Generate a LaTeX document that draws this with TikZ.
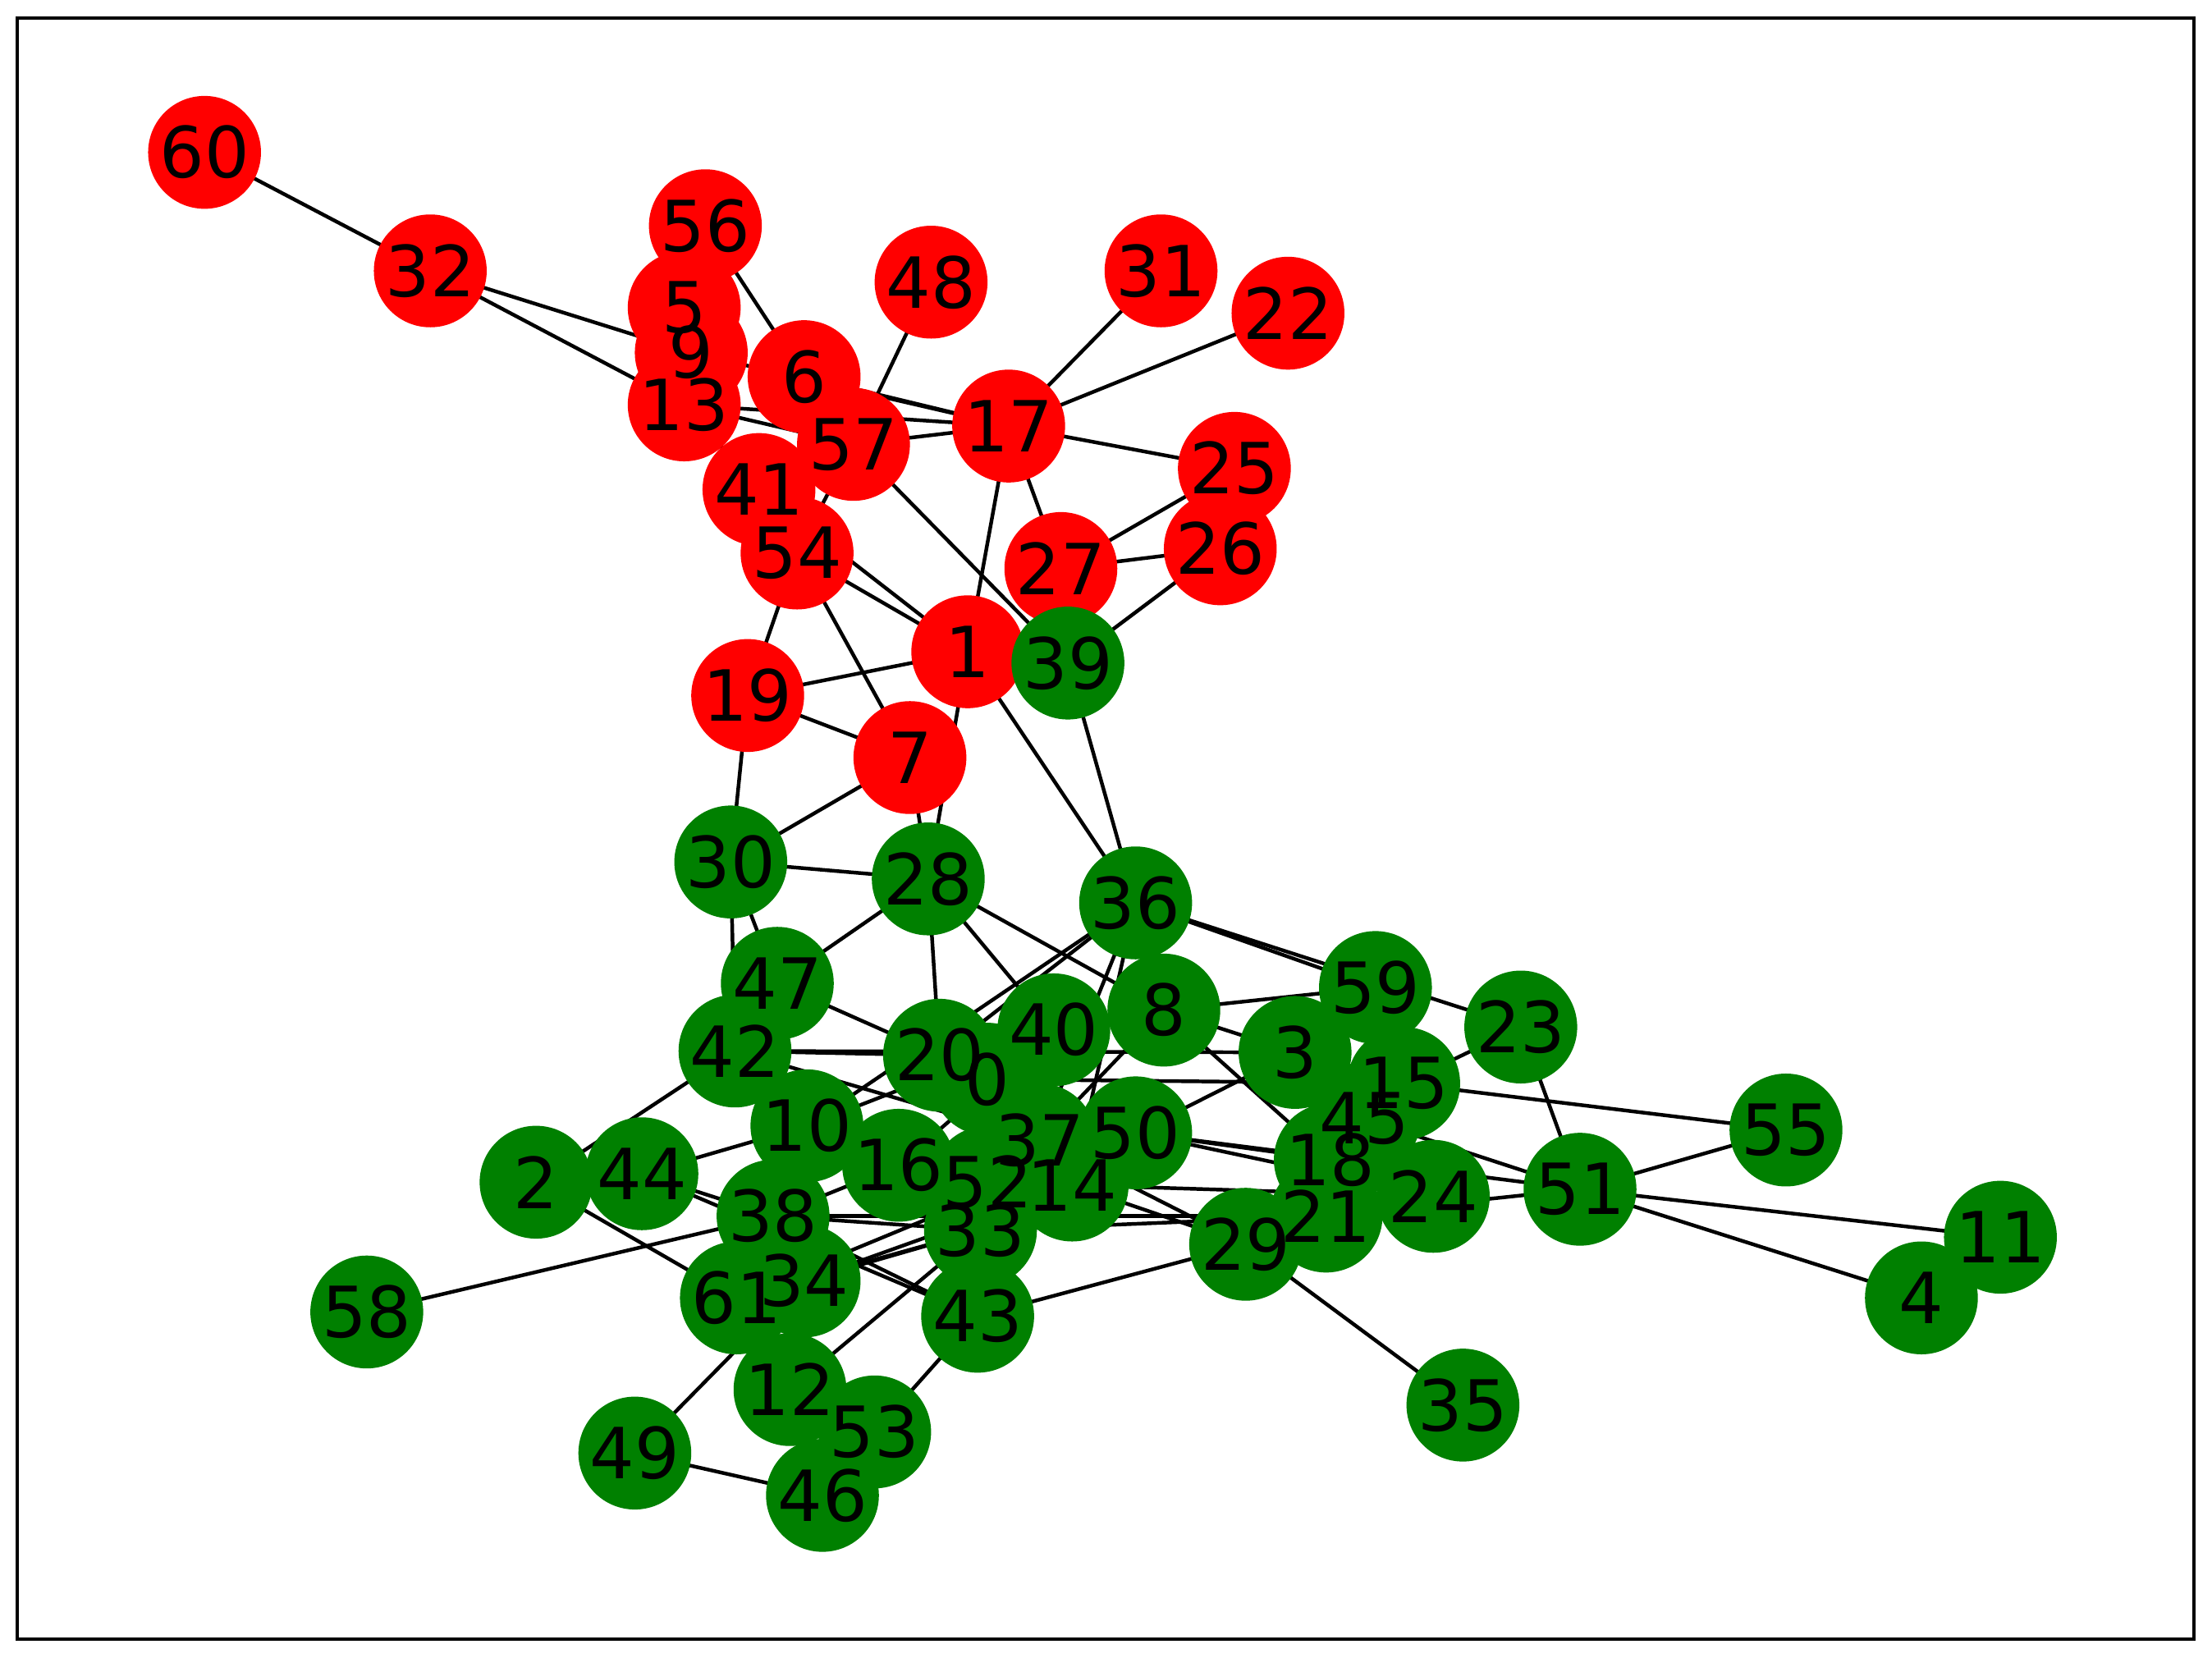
\documentclass[tikz,border=0pt]{standalone}
\usepackage{fontspec}
\setmainfont{DejaVu Sans}
\pgfdeclarelayer{background}
\pgfdeclarelayer{foreground}
\pgfsetlayers{background,main,foreground}
\definecolor{nxgreen}{RGB}{0,128,0}
\definecolor{nxred}{RGB}{255,0,0}
\tikzset{
  vtx/.style={circle, minimum size=80pt, inner sep=0pt, draw=none},
  lbl/.style={font=\fontsize{50}{50}\selectfont, inner sep=0pt, text=black},
  edge/.style={line width=2.6pt, black},
  frame/.style={line width=2.2pt, black}
}
\begin{document}
\begin{tikzpicture}[x=1pt, y=-1pt]
\useasboundingbox (0,0) rectangle (1568,1175);
\draw[frame] (12,13) rectangle (1555,1162);
\foreach \n/\x/\y/\c in {
0/700/765/nxgreen, 1/686/462/nxred, 2/380/838/nxgreen, 3/918/746/nxgreen,
4/1362/920/nxgreen, 5/485/218/nxred, 6/570/267/nxred, 7/645/537/nxred,
8/825/716/nxgreen, 9/490/250/nxred, 10/572/798/nxgreen, 11/1418/877/nxgreen,
12/560/985/nxgreen, 13/485/287/nxred, 14/760/840/nxgreen, 15/995/768/nxgreen,
16/637/826/nxgreen, 17/715/302/nxred, 18/943/822/nxgreen, 19/530/493/nxred,
20/666/748/nxgreen, 21/940/862/nxgreen, 22/913/222/nxred, 23/1078/728/nxgreen,
24/1016/848/nxgreen, 25/875/332/nxred, 26/865/389/nxred, 27/752/403/nxred,
28/658/623/nxgreen, 29/883/882/nxgreen, 30/518/611/nxgreen, 31/823/192/nxred,
32/305/192/nxred, 33/695/872/nxgreen, 34/570/908/nxgreen, 35/1037/996/nxgreen,
36/805/640/nxgreen, 37/737/808/nxgreen, 38/548/862/nxgreen, 39/757/470/nxgreen,
40/747/730/nxgreen, 41/538/347/nxred, 42/521/745/nxgreen, 43/693/933/nxgreen,
44/455/832/nxgreen, 45/967/793/nxgreen, 46/583/1060/nxgreen, 47/551/697/nxgreen,
48/660/200/nxred, 49/450/1030/nxgreen, 50/805/803/nxgreen, 51/1120/843/nxgreen,
52/700/838/nxgreen, 53/620/1015/nxgreen, 54/565/392/nxred, 55/1266/801/nxgreen,
56/500/160/nxred, 57/605/315/nxred, 58/260/930/nxgreen, 59/975/700/nxgreen,
60/145/108/nxred, 61/522/920/nxgreen}
  \node[vtx, fill=\c] (n\n) at (\x,\y) {};
\begin{pgfonlayer}{foreground}
\foreach \n in {0,...,61}
  \node[lbl] (l\n) at (n\n.center) {\n};
\end{pgfonlayer}
\begin{pgfonlayer}{background}
\foreach \a/\b in {
60/32, 32/9, 32/13, 56/6, 48/57, 31/17, 22/17, 17/25, 17/27, 17/1, 6/17, 13/17,
57/17, 9/17, 13/57, 57/39, 57/54, 13/41, 25/27, 26/27, 26/39, 54/1, 41/1, 54/19,
54/7, 19/1, 19/7, 19/30, 7/30, 1/28, 7/28, 1/36, 39/36, 30/28,
30/47, 30/42, 28/47, 28/20, 28/8, 28/40, 36/20, 36/59, 36/23, 8/59, 8/3, 8/18,
0/15, 42/20, 42/37, 42/3, 10/40, 10/36, 44/10, 42/2, 2/61, 44/38, 44/43, 58/38,
38/33, 38/21, 34/33, 34/14, 61/33, 61/50, 38/43, 12/33, 49/34, 49/46, 53/43,
43/29, 29/35, 50/3, 8/37, 36/14, 36/37, 50/18, 50/24, 50/51, 14/24, 14/29,
37/29, 3/15, 15/23, 15/55, 23/51, 51/55, 51/11, 51/4, 21/51, 45/51, 47/20,
16/40, 38/16, 43/33, 33/21}
  \draw[edge] (n\a.center) -- (n\b.center);
\end{pgfonlayer}
\end{tikzpicture}
\end{document}
